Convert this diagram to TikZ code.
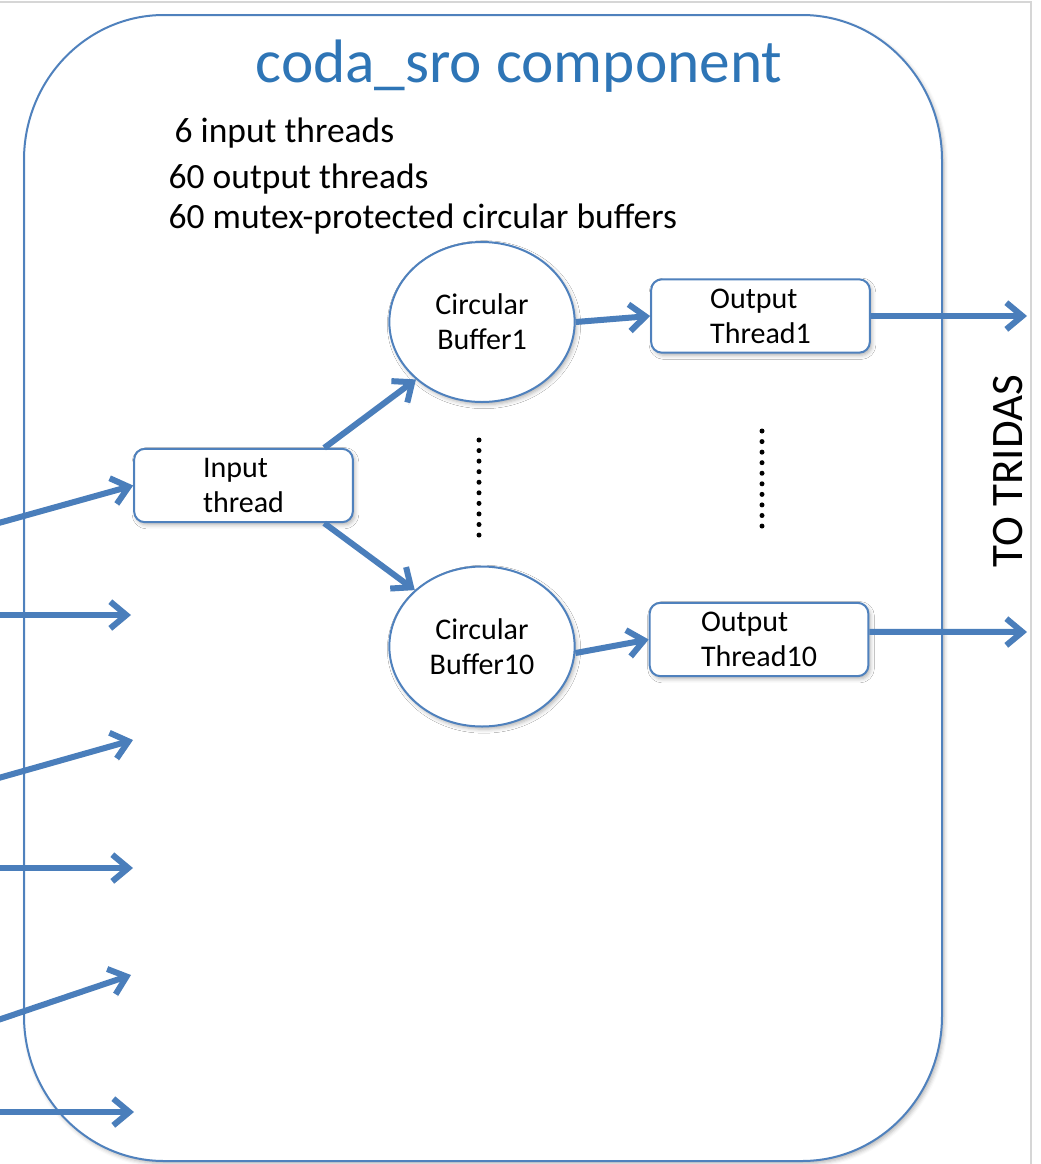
\documentclass[tikz,border=0pt]{standalone}
\usepackage{fontspec}
\setmainfont{Carlito}
\usetikzlibrary{arrows.meta,shapes.geometric,shadows.blur}
\definecolor{boxline}{RGB}{79,129,189}
\definecolor{arrowblue}{RGB}{74,126,187}
\definecolor{titleblue}{RGB}{46,117,182}
\definecolor{pagegray}{RGB}{214,214,214}

\begin{document}
\begin{tikzpicture}[x=0.75pt,y=-0.75pt,
  softshadow/.style={blur shadow={shadow xshift=1.5pt,shadow yshift=-2pt,
      shadow blur radius=3pt,shadow opacity=30}},
  thread/.style={draw=boxline,line width=1.5pt,fill=white,rounded corners=8pt,
      minimum width=164pt,minimum height=55pt,align=left,inner sep=0pt,
      font=\fontsize{22.5}{26.25}\selectfont,softshadow},
  buffer/.style={ellipse,draw=boxline,line width=1.5pt,fill=white,
      minimum width=139pt,minimum height=120pt,align=center,inner sep=0pt,
      font=\fontsize{22.5}{26.25}\selectfont,softshadow},
  flow/.style={draw=arrowblue,line width=4.5pt,
      -{Straight Barb[length=12pt,width=20pt]},
      preaction={draw=black,opacity=0.12,
        transform canvas={xshift=1pt,yshift=-1.8pt}}},
  note/.style={anchor=base west,font=\fontsize{26.6}{32}\selectfont},
  dots/.style={line width=3.75pt,line cap=round,dash pattern=on 0pt off 7.92pt}
]
\useasboundingbox (0,0) rectangle (1040,1164);

% page edge
\draw[pagegray,line width=1.5pt] (0,1.5) -- (1031,1.5) -- (1031,1164);

% component frame with elliptical corners
\draw[boxline,line width=1.5pt,fill=white,softshadow]
  (164,15) -- (802,15)
  .. controls (879.3,15) and (942,79.9) .. (942,160)
  -- (942,1016)
  .. controls (942,1096.1) and (879.3,1161) .. (802,1161)
  -- (164,1161)
  .. controls (86.7,1161) and (24,1096.1) .. (24,1016)
  -- (24,160)
  .. controls (24,79.9) and (86.7,15) .. cycle;

% title and notes
\node[anchor=base,font=\fontsize{46}{55}\selectfont,text=titleblue]
  (title) at (519,82) {coda\_sro component};
\node[note] (n1) at (170,142) {6 input threads};
\node[note] (n2) at (164,188) {60 output threads};
\node[note] (n3) at (164,228) {60 mutex-protected circular buffers};

% threads and buffers
\node[thread] (inp) at (243.5,485.5) {Input\\thread};
\node[buffer] (buf1) at (482,322) {Circular\\Buffer1};
\node[buffer] (buf10) at (482,646.5) {Circular\\Buffer10};
\node[thread] (out1) at (760.5,316) {Output\\Thread1};
\node[thread] (out10) at (759,639.5) {Output\\Thread10};

% elided buffers and threads
\draw[dots] (479,440) -- (479,536);
\draw[dots] (762,431) -- (762,527);

% destination label
\node[rotate=90,font=\fontsize{33.75}{40}\selectfont] (dest) at (1008,471) {TO TRIDAS};

% incoming streams
\coordinate (s1) at (-5,524);
\coordinate (s2) at (-5,615);
\coordinate (s3) at (-5,779);
\coordinate (s4) at (-5,868);
\coordinate (s5) at (-5,1021);
\coordinate (s6) at (-5,1112);
\coordinate (e2) at (131,615);
\coordinate (e3) at (133,740);
\coordinate (e4) at (133,868);
\coordinate (e5) at (131,975);
\coordinate (e6) at (134,1112);
\draw[flow] (s1) -- (inp.west);
\draw[flow] (s2) -- (e2);
\draw[flow] (s3) -- (e3);
\draw[flow] (s4) -- (e4);
\draw[flow] (s5) -- (e5);
\draw[flow] (s6) -- (e6);

% internal flow
\draw[flow] (inp.25) -- (buf1.221);
\draw[flow] (inp.-25) -- (buf10.140);
\draw[flow] (buf1.east) -- (out1.west);
\draw[flow] (buf10.-4) -- (out10.west);

% outgoing streams
\coordinate (r1) at (1027,316);
\coordinate (r10) at (1027,632);
\draw[flow] (out1.east) -- (r1);
\draw[flow] (out10.4) -- (r10);
\end{tikzpicture}
\end{document}
